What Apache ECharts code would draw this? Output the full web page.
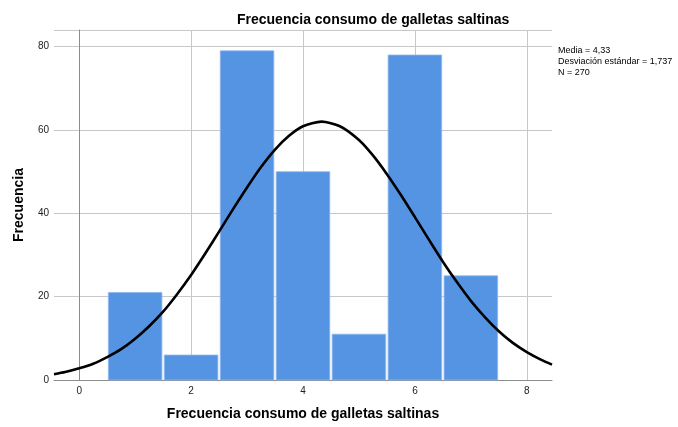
<!DOCTYPE html>
<html><head><meta charset="utf-8">
<script src="https://cdn.jsdelivr.net/npm/echarts@6/dist/echarts.min.js"></script>
<style>html,body{margin:0;padding:0;background:#fff}#c{width:678px;height:427px}</style>
</head><body><div id="c"></div>
<script>
// Histogram data
var categories = [1, 2, 3, 4, 5, 6, 7];
var counts = [21, 6, 79, 50, 11, 78, 25];
// Normal curve values
var curveX = [-0.45, -0.25, 0, 0.25, 0.5, 0.75, 1, 1.25, 1.5, 1.75, 2, 2.25, 2.5, 2.75, 3, 3.25, 3.5, 3.75, 4, 4.33, 4.66, 5, 5.25, 5.5, 5.75, 6, 6.25, 6.5, 6.75, 7, 7.25, 7.5, 7.75, 8, 8.25, 8.45];
var curveY = [1.4, 1.9, 2.8, 3.9, 5.5, 7.4, 9.9, 12.9, 16.4, 20.6, 25.2, 30.3, 35.6, 41.0, 46.2, 51.1, 55.3, 58.6, 60.9, 62.0, 60.9, 57.6, 53.9, 49.4, 44.4, 39.1, 33.7, 28.4, 23.5, 19.0, 15.1, 11.7, 8.9, 6.7, 4.9, 3.7];
var xTicks = [0, 2, 4, 6, 8];
var statsLines = ['Media = 4,33', 'Desviación estándar = 1,737', 'N = 270'];
var titleText = 'Frecuencia consumo de galletas saltinas';
var xName = 'Frecuencia consumo de galletas saltinas';
var yName = 'Frecuencia';

var chart = echarts.init(document.getElementById('c'), null, {renderer: 'canvas'});
var font = 'Liberation Sans, Arial, sans-serif';
var barData = categories.map(function (c, i) { return [c, counts[i]]; });
var lineData = curveX.map(function (x, i) { return [x, curveY[i]]; });

chart.setOption({
  animation: false,
  backgroundColor: '#fff',
  textStyle: {fontFamily: font},
  title: {
    text: titleText, left: 232, top: 8,
    textStyle: {fontFamily: font, fontSize: 14, fontWeight: 'bold', color: '#000'}
  },
  graphic: [{
    type: 'text', left: 558, top: 45,
    style: {text: statsLines.join('\n'), fontFamily: font, fontSize: 9, lineHeight: 11, fill: '#000'}
  }],
  grid: {left: 54, right: 126, top: 30, bottom: 47, containLabel: false},
  xAxis: {
    type: 'value', min: -0.45, max: 8.45,
    name: xName, nameLocation: 'middle', nameGap: 27,
    nameTextStyle: {fontFamily: font, fontSize: 14, fontWeight: 'bold', color: '#000'},
    axisLine: {show: true, onZero: false, lineStyle: {color: '#8c8c8c', width: 1}},
    axisTick: {show: false, customValues: xTicks},
    axisLabel: {customValues: xTicks, fontFamily: font, fontSize: 10, color: '#222', margin: 6},
    splitLine: {show: true, lineStyle: {color: '#c8c8c8', width: 1}}
  },
  yAxis: {
    type: 'value', min: 0, max: 84, interval: 20,
    name: yName, nameLocation: 'middle', nameGap: 28, nameRotate: 90,
    nameTextStyle: {fontFamily: font, fontSize: 14, fontWeight: 'bold', color: '#000'},
    axisLine: {show: true, lineStyle: {color: '#8c8c8c', width: 1}},
    axisTick: {show: false},
    axisLabel: {fontFamily: font, fontSize: 10, color: '#222', margin: 5,
      showMaxLabel: false},
    splitLine: {show: true, lineStyle: {color: '#c8c8c8', width: 1}}
  },
  series: [{
    type: 'custom',
    data: barData,
    encode: {x: 0, y: 1},
    renderItem: function (params, api) {
      var c = api.value(0), v = api.value(1);
      var p0 = api.coord([c - 0.5, v]);
      var p1 = api.coord([c + 0.5, 0]);
      return {
        type: 'rect',
        shape: {x: p0[0] + 1.2, y: p0[1], width: p1[0] - p0[0] - 2.4, height: p1[1] - p0[1]},
        style: {fill: '#5594e3', stroke: '#8fb8ee', lineWidth: 0.8}
      };
    },
    z: 2
  }, {
    type: 'line',
    data: lineData,
    smooth: 0.25,
    showSymbol: false,
    symbol: 'none',
    clip: true,
    lineStyle: {color: '#000', width: 2.6, join: 'round'},
    z: 3
  }]
});
</script></body></html>
